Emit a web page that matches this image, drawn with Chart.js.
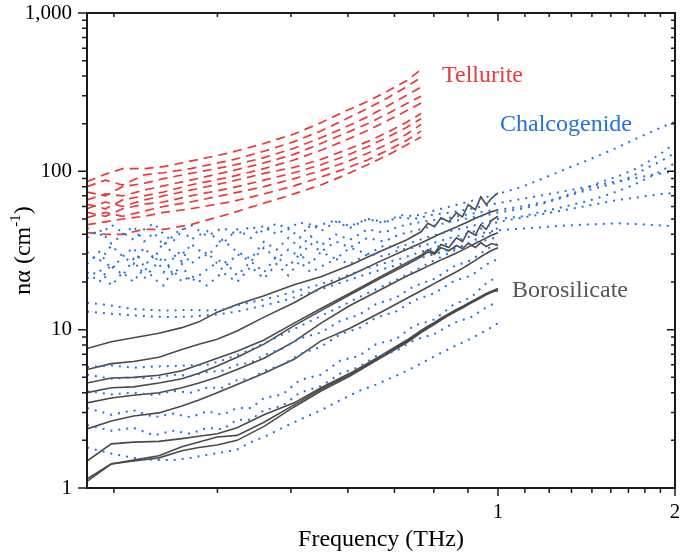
<!DOCTYPE html>
<html><head><meta charset="utf-8">
<script src="https://cdn.jsdelivr.net/npm/chart.js@4/dist/chart.umd.min.js"></script>
<style>html,body{margin:0;padding:0;background:#fff}#wrap{width:685px;height:557px}</style>
</head><body><div id="wrap"><canvas id="c" width="685" height="557"></canvas></div>
<script>
// ---------------- DATA ----------------
// Tellurite (red dashed)
const freqTell = [0.2, 0.215, 0.23, 0.25, 0.27, 0.3, 0.35, 0.4, 0.45, 0.5, 0.55, 0.6, 0.65, 0.7, 0.74];
const tell1  = [86, 96, 104, 104, 107, 116, 131, 150, 172, 203, 240, 276, 322, 375, 440];
const tell2  = [80, 88, 82, 95, 98, 104, 117, 134, 154, 180, 213, 250, 292, 343, 392];
const tell3  = [74, 70, 80, 84, 90, 97, 108, 122, 140, 163, 190, 221, 260, 303, 340];
const tell4  = [66, 72, 70, 76, 81, 88, 100, 113, 128, 150, 174, 200, 232, 268, 298];
const tell5  = [62, 58, 66, 70, 74, 82, 92, 104, 118, 136, 157, 181, 210, 242, 270];
const tell6  = [58, 64, 60, 66, 70, 76, 86, 97, 106, 119, 136, 154, 177, 205, 232];
const tell7  = [55, 52, 58, 62, 64, 70, 78, 88, 98, 110, 125, 143, 165, 190, 215];
const tell8  = [51, 55, 52, 56, 60, 64, 72, 80, 90, 101, 114, 130, 149, 172, 198];
const tell9  = [46, 48, 50, 52, 55, 58, 64, 72, 81, 92, 104, 118, 136, 157, 180];
const tell10 = [41, 40, 40, 43, 43, 46, 54, 63, 72, 82, 95, 110, 127, 147, 165];

// Chalcogenide (blue dotted) - curves reaching 2 THz
const freqChalUp = [0.2, 0.21, 0.22, 0.23, 0.24, 0.25, 0.26, 0.27, 0.28, 0.29, 0.3, 0.32, 0.34, 0.36, 0.38, 0.4, 0.42, 0.44, 0.46, 0.48, 0.5, 0.53, 0.56, 0.6, 0.64, 0.68, 0.72, 0.77, 0.83, 0.9, 0.96, 1.0, 1.1, 1.2, 1.3, 1.4, 1.5, 1.6, 1.7, 1.8, 1.9, 2.0];
const chal1 = [38, 43, 35, 40, 45, 36, 41, 34, 39, 44, 37, 42, 35, 43, 38, 46, 40, 44, 38, 47, 42, 48, 44, 50, 47, 53, 52, 56, 60, 65, 69, 72, 80, 91, 103, 115, 128, 142, 158, 174, 190, 206];
const chal2 = [31, 27, 34, 29, 26, 33, 28, 36, 30, 27, 35, 29, 37, 31, 28, 36, 32, 38, 33, 39, 34, 40, 37, 43, 41, 45, 47, 49, 51, 54, 56, 57, 60, 64, 70, 77, 86, 93, 102, 115, 131, 151];
const chal3 = [26, 31, 24, 29, 33, 25, 30, 23, 28, 32, 26, 31, 24, 30, 27, 33, 28, 32, 29, 35, 31, 36, 33, 38, 36, 40, 42, 45, 48, 51, 53, 55, 58, 63, 69, 75, 80, 85, 94, 106, 117, 131];
const chal4 = [23, 20, 26, 22, 28, 21, 25, 29, 22, 26, 20, 24, 28, 22, 27, 23, 29, 25, 30, 26, 31, 28, 33, 30, 34, 33, 36, 39, 42, 45, 48, 50, 52, 56, 60, 64, 69, 75, 82, 91, 101, 113];
const chal5 = [21, 24, 19, 23, 20, 25, 21, 19, 24, 20, 22, 19, 23, 20, 25, 21, 26, 22, 27, 23, 25, 28, 26, 30, 29, 32, 33, 35, 38, 41, 45, 48, 51, 54, 57, 60, 63, 66, 68, 70, 72, 73];
const chal6 = [44, 39, 46, 41, 37, 43, 47, 40, 36, 42, 46, 39, 44, 40, 45, 41, 47, 43, 48, 44, 46, 49, 45, 50, 48, 51, 50, 53, 55, 58, 61, 63, 67, 71, 75, 79, 83, 87, 90, 94, 97, 100];
const chal7 = [14.8, 14.5, 14.2, 13.8, 13.5, 13.4, 13.3, 13.2, 13.2, 13.3, 13.3, 13.2, 13.4, 14.2, 14.9, 15.5, 16.2, 17.0, 17.8, 18.6, 19.4, 20.8, 22.3, 24.5, 26.3, 28.0, 30.0, 32.5, 35.5, 39.0, 41.5, 42.5, 43.5, 44.5, 45.5, 46.0, 46.5, 47.0, 46.5, 46.0, 45.5, 45.0];

// Chalcogenide (blue dotted) - curves ending at 1 THz
const freqChalLow = [0.2, 0.22, 0.24, 0.26, 0.28, 0.3, 0.32, 0.34, 0.36, 0.38, 0.4, 0.43, 0.46, 0.5, 0.54, 0.58, 0.62, 0.67, 0.72, 0.78, 0.84, 0.9, 0.96, 1.0];
const chal8  = [13.0, 12.6, 12.3, 12.1, 12.0, 12.1, 12.3, 12.6, 13.0, 13.6, 14.2, 15.2, 16.4, 18.0, 19.8, 21.6, 23.4, 25.5, 27.5, 30.0, 32.5, 35.0, 37.0, 38.5];
const chal9  = [1.8, 1.65, 1.55, 1.5, 1.5, 1.55, 1.62, 1.68, 1.75, 1.95, 2.1, 2.4, 2.7, 3.1, 3.6, 4.1, 4.5, 5.1, 5.8, 6.8, 7.8, 8.8, 10.0, 11.0];
const chal10 = [2.5, 2.3, 2.4, 2.15, 2.3, 2.2, 2.4, 2.35, 2.7, 2.7, 3.1, 3.3, 4.0, 4.4, 5.3, 5.8, 6.8, 7.3, 8.6, 9.4, 11.0, 12.0, 14.0, 15.0];
const chal11 = [3.2, 2.9, 3.1, 2.8, 2.95, 2.8, 3.05, 2.9, 3.2, 3.2, 3.7, 3.9, 4.8, 5.2, 6.4, 6.8, 8.1, 8.7, 10.6, 11.6, 14.4, 16.0, 20.0, 21.5];
const chal12 = [4.1, 3.9, 4.0, 3.85, 4.1, 4.0, 4.3, 4.3, 4.8, 4.9, 5.5, 6.0, 7.0, 7.8, 9.4, 10.2, 11.9, 13.0, 15.3, 17.0, 20.2, 22.0, 26.0, 28.0];
const chal13 = [5.2, 4.9, 5.0, 4.9, 5.2, 5.1, 5.4, 5.5, 6.0, 6.2, 6.9, 7.6, 8.8, 9.6, 11.4, 12.4, 14.5, 15.9, 18.8, 21.0, 25.0, 27.5, 32.5, 35.0];
const chal14 = [5.8, 5.95, 5.75, 5.85, 5.9, 5.95, 6.0, 6.4, 6.9, 7.5, 8.2, 9.3, 10.5, 12.2, 14.0, 16.0, 18.0, 20.5, 23.5, 27.5, 31.5, 36.0, 40.0, 44.0];

// Borosilicate (grey solid)
const freqBoro = [0.2, 0.22, 0.24, 0.265, 0.29, 0.31, 0.333, 0.36, 0.4, 0.45, 0.5, 0.56, 0.63, 0.7, 0.74, 0.76, 0.78, 0.8, 0.825, 0.85, 0.87, 0.89, 0.915, 0.935, 0.955, 0.975, 1.0];
const boro1 = [7.6, 8.4, 8.9, 9.5, 10.3, 11.2, 12.9, 14.4, 16.4, 19.2, 21.6, 25.5, 31.2, 37.0, 41.5, 47.0, 44.7, 50.9, 48.0, 54.7, 51.6, 61.5, 57.2, 69.0, 61.5, 67.6, 73.0];
const boro2 = [5.6, 6.1, 6.3, 6.7, 7.5, 8.1, 8.7, 9.8, 12.0, 14.8, 18.4, 22.0, 27.0, 32.2, 35.3, 37.0, 38.8, 40.5, 42.5, 44.5, 46.3, 48.0, 50.5, 52.2, 54.0, 55.6, 57.2];
const boro3 = [4.6, 4.95, 5.0, 5.15, 5.5, 6.0, 6.6, 7.3, 8.6, 11.0, 13.6, 17.0, 21.5, 26.5, 29.5, 32.0, 30.5, 34.5, 33.0, 38.0, 36.0, 42.0, 39.5, 46.0, 43.0, 49.0, 52.0];
const boro4 = [4.0, 4.3, 4.35, 4.6, 4.9, 5.3, 5.9, 6.7, 8.1, 10.6, 13.2, 16.6, 21.0, 25.8, 28.8, 31.0, 30.0, 33.0, 31.5, 34.0, 32.5, 35.0, 33.0, 35.5, 33.5, 35.0, 34.0];
const boro5 = [3.45, 3.7, 3.85, 4.0, 4.3, 4.6, 5.0, 5.6, 6.6, 8.4, 11.0, 14.2, 17.8, 21.8, 24.0, 25.2, 26.4, 27.6, 29.0, 30.5, 31.8, 33.2, 35.0, 36.5, 38.0, 39.5, 41.0];
const boro6 = [2.36, 2.65, 2.85, 2.98, 3.3, 3.6, 4.0, 4.5, 5.3, 6.5, 8.5, 10.2, 12.8, 15.8, 17.6, 18.6, 19.6, 20.6, 21.9, 23.2, 24.4, 25.7, 27.4, 28.9, 30.3, 31.6, 32.9];
const boro7 = [1.48, 1.9, 1.95, 1.97, 2.05, 2.12, 2.2, 2.4, 2.9, 3.45, 4.3, 5.3, 6.8, 8.6, 9.9, 10.5, 11.1, 11.8, 12.6, 13.4, 14.0, 14.7, 15.5, 16.2, 16.9, 17.5, 18.2];
const boro8 = [1.14, 1.42, 1.48, 1.55, 1.72, 1.8, 1.87, 2.0, 2.45, 3.25, 4.1, 5.1, 6.6, 8.3, 9.6, 10.2, 10.8, 11.5, 12.3, 13.1, 13.7, 14.4, 15.2, 15.9, 16.6, 17.2, 17.9];
const boro9 = [1.1, 1.42, 1.5, 1.6, 1.82, 1.95, 2.1, 2.15, 2.6, 3.35, 4.2, 5.2, 6.7, 8.45, 9.75, 10.35, 10.95, 11.65, 12.45, 13.25, 13.85, 14.55, 15.35, 16.05, 16.75, 17.35, 17.6];

// Axis ticks and labels
const xTickValues = [2/9, 3/9, 4/9, 5/9, 6/9, 7/9, 8/9, 1, 10/9, 11/9, 12/9, 13/9, 14/9, 15/9, 16/9, 17/9, 2];
const xMajor = [1, 2];
const xLabels = ['1', '2'];
const yTickValues = [1,2,3,4,5,6,7,8,9,10,20,30,40,50,60,70,80,90,100,200,300,400,500,600,700,800,900,1000];
const yMajor = [1, 10, 100, 1000];
const yLabels = ['1', '10', '100', '1,000'];
const groupNames = ['Tellurite', 'Chalcogenide', 'Borosilicate'];
const xTitle = 'Frequency (THz)';

// ---------------- CHART ----------------
const RED = '#ea3a3c', BLUE = '#2272e0', GREY = '#4a4a4a';
const SERIF = '"Liberation Serif", "Times New Roman", serif';
const pts = (xs, ys) => ys.map((y, i) => ({x: xs[i], y}));
const datasets = [];
[chal1, chal2, chal3, chal4, chal5, chal6, chal7].forEach(ys => datasets.push({
  data: pts(freqChalUp, ys), borderColor: BLUE, borderWidth: 2, borderDash: [2, 6], borderCapStyle: 'butt'}));
[chal8, chal9, chal10, chal11, chal12, chal13, chal14].forEach(ys => datasets.push({
  data: pts(freqChalLow, ys), borderColor: BLUE, borderWidth: 2, borderDash: [2, 6], borderCapStyle: 'butt'}));
[boro1, boro2, boro3, boro4, boro5, boro6, boro7, boro8, boro9].forEach(ys => datasets.push({
  data: pts(freqBoro, ys), borderColor: GREY, borderWidth: 1.6}));
[tell1, tell2, tell3, tell4, tell5, tell6, tell7, tell8, tell9, tell10].forEach(ys => datasets.push({
  data: pts(freqTell, ys), borderColor: RED, borderWidth: 1.7, borderDash: [9, 6]}));

const near = (a, b) => Math.abs(a - b) < 1e-6 * b;

const decor = {
  id: 'decor',
  afterDraw(chart) {
    const {ctx, chartArea: a, scales: {x, y}} = chart;
    ctx.save();
    ctx.strokeStyle = '#1a1a1a';
    ctx.lineWidth = 1.5;
    ctx.beginPath();
    xTickValues.forEach(v => {
      const p = x.getPixelForValue(v);
      const maj = xMajor.some(m => near(m, v));
      ctx.moveTo(p, a.bottom); ctx.lineTo(p, a.bottom + (maj ? 8 : 5));
      ctx.moveTo(p, a.top); ctx.lineTo(p, a.top + (maj ? 8 : 4));
    });
    yTickValues.forEach(v => {
      const p = y.getPixelForValue(v);
      const maj = yMajor.some(m => near(m, v));
      ctx.moveTo(a.left, p); ctx.lineTo(a.left - (maj ? 9 : 5), p);
      ctx.moveTo(a.right, p); ctx.lineTo(a.right - (maj ? 8 : 4), p);
    });
    ctx.stroke();
    ctx.lineWidth = 2;
    ctx.strokeRect(a.left, a.top, a.right - a.left, a.bottom - a.top);

    // group labels
    ctx.font = '24px ' + SERIF;
    ctx.textBaseline = 'alphabetic';
    ctx.textAlign = 'left';
    ctx.fillStyle = RED;   ctx.fillText(groupNames[0], 442, 82);
    ctx.fillStyle = BLUE;  ctx.fillText(groupNames[1], 500, 131);
    ctx.fillStyle = '#555'; ctx.fillText(groupNames[2], 512, 297);

    // x title
    ctx.fillStyle = '#000';
    ctx.textAlign = 'center';
    ctx.fillText(xTitle, (a.left + a.right) / 2, 546);

    // y title: nα (cm^-1)
    ctx.save();
    ctx.translate(30, (a.top + a.bottom) / 2);
    ctx.rotate(-Math.PI / 2);
    ctx.textAlign = 'left';
    const p1 = 'nα (cm', p2 = '-1', p3 = ')';
    ctx.font = '24px ' + SERIF; const w1 = ctx.measureText(p1).width, w3 = ctx.measureText(p3).width;
    ctx.font = '15px ' + SERIF; const w2 = ctx.measureText(p2).width;
    let sx = -(w1 + w2 + w3) / 2;
    ctx.font = '24px ' + SERIF; ctx.fillText(p1, sx, 0); sx += w1;
    ctx.font = '15px ' + SERIF; ctx.fillText(p2, sx, -10); sx += w2;
    ctx.font = '24px ' + SERIF; ctx.fillText(p3, sx, 0);
    ctx.restore();
    ctx.restore();
  }
};

new Chart(document.getElementById('c'), {
  type: 'line',
  data: {datasets},
  options: {
    responsive: false, animation: false,
    layout: {padding: {top: 13, right: 10, left: 0, bottom: 0}},
    elements: {point: {radius: 0}, line: {tension: 0, fill: false}},
    plugins: {legend: {display: false}, tooltip: {enabled: false}},
    scales: {
      x: {
        type: 'logarithmic', min: 0.2, max: 2,
        afterBuildTicks: s => { s.ticks = xTickValues.map(v => ({value: v})); },
        afterFit: s => { s.height = 69; s.paddingLeft = 0; s.paddingRight = 0; },
        grid: {display: false, drawTicks: false}, border: {display: false},
        ticks: {autoSkip: false, maxRotation: 0, padding: 12, color: '#000',
          font: {family: SERIF, size: 21},
          callback: v => { const i = xMajor.findIndex(m => near(m, v)); return i >= 0 ? xLabels[i] : ''; }}
      },
      y: {
        type: 'logarithmic', min: 1, max: 1000,
        afterBuildTicks: s => { s.ticks = yTickValues.map(v => ({value: v})); },
        afterFit: s => { s.width = 87; s.paddingTop = 0; s.paddingBottom = 0; },
        grid: {display: false, drawTicks: false}, border: {display: false},
        ticks: {autoSkip: false, padding: 15, color: '#000',
          font: {family: SERIF, size: 21},
          callback: v => { const i = yMajor.findIndex(m => near(m, v)); return i >= 0 ? yLabels[i] : ''; }}
      }
    }
  },
  plugins: [decor]
});
</script></body></html>
